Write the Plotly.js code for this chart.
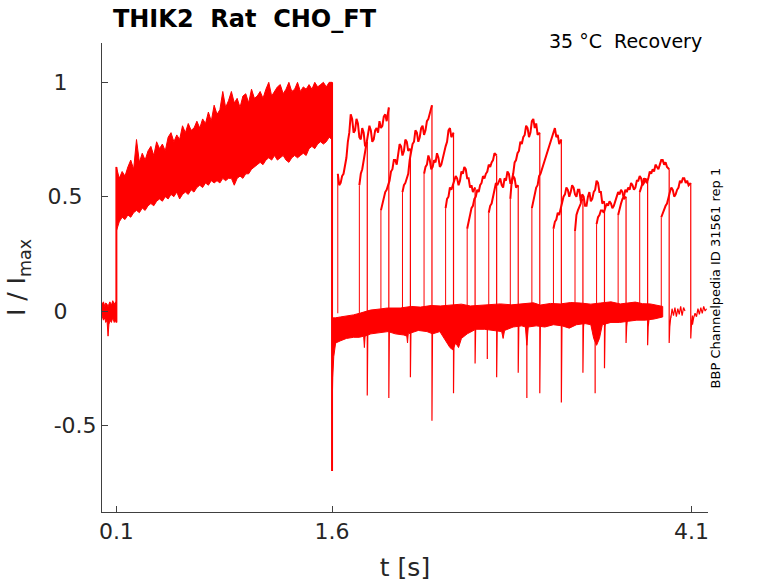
<!DOCTYPE html>
<html>
<head>
<meta charset="utf-8">
<script src="https://cdn.plot.ly/plotly-3.0.1.min.js"></script>
<style>
  html, body { margin: 0; padding: 0; background: #fff; }
  #chart { width: 778px; height: 583px; }
</style>
</head>
<body>
<div id="chart"></div>
<script>
// ---- data (time in s, current normalised to Imax) ----

// holding level before the first pulse (band of overlaid sweeps)
var preT  = [0, 0.01, 0.02, 0.026, 0.035, 0.042, 0.048, 0.055, 0.065, 0.075, 0.085, 0.095, 0.1];
var preHi = [0.03, 0.04, 0.02, 0.035, 0.03, 0.02, 0.03, 0.04, 0.025, 0.045, 0.03, 0.04, 0.03];
var preLo = [-0.02, -0.04, -0.03, -0.05, -0.04, -0.11, -0.06, -0.04, -0.05, -0.03, -0.05, -0.04, -0.05];

// first (conditioning) pulse 0.1 - 1.6 s : upper and lower edge of the band
var p1T = [0.10, 0.12, 0.14, 0.16, 0.18, 0.20, 0.22, 0.24, 0.26, 0.28,
           0.30, 0.32, 0.34, 0.36, 0.38, 0.40, 0.42, 0.44, 0.46, 0.48,
           0.50, 0.52, 0.54, 0.56, 0.58, 0.60, 0.62, 0.64, 0.66, 0.68,
           0.70, 0.72, 0.74, 0.76, 0.78, 0.80, 0.82, 0.84, 0.86, 0.88,
           0.90, 0.92, 0.94, 0.96, 0.98, 1.00, 1.02, 1.04, 1.06, 1.08,
           1.10, 1.12, 1.14, 1.16, 1.18, 1.20, 1.22, 1.24, 1.26, 1.28,
           1.30, 1.32, 1.34, 1.36, 1.38, 1.40, 1.42, 1.44, 1.46, 1.48,
           1.50, 1.52, 1.54, 1.56, 1.58, 1.60];
var p1Hi = [0.63, 0.58, 0.61, 0.59, 0.63, 0.66, 0.62, 0.75, 0.65, 0.69,
            0.66, 0.70, 0.72, 0.68, 0.74, 0.71, 0.73, 0.70, 0.76, 0.78,
            0.74, 0.77, 0.75, 0.81, 0.78, 0.82, 0.79, 0.80, 0.83, 0.80,
            0.84, 0.82, 0.87, 0.83, 0.90, 0.86, 0.88, 0.96, 0.89, 0.92,
            0.96, 0.91, 0.93, 0.89, 0.94, 0.95, 0.91, 0.97, 0.93, 0.94,
            0.96, 0.93, 0.97, 1.00, 0.94, 0.96, 0.98, 0.99, 0.95, 0.97,
            1.00, 0.96, 0.97, 1.00, 0.96, 0.98, 0.97, 0.99, 0.97, 1.00,
            0.98, 0.99, 1.00, 0.98, 1.00, 1.00];
var p1Lo = [0.35, 0.39, 0.41, 0.40, 0.42, 0.41, 0.43, 0.44, 0.43, 0.45,
            0.44, 0.46, 0.47, 0.46, 0.48, 0.49, 0.48, 0.50, 0.49, 0.51,
            0.50, 0.52, 0.49, 0.51, 0.52, 0.51, 0.53, 0.52, 0.54, 0.55,
            0.54, 0.56, 0.55, 0.57, 0.56, 0.57, 0.56, 0.58, 0.57, 0.58,
            0.58, 0.55, 0.58, 0.59, 0.58, 0.60, 0.60, 0.62, 0.63, 0.64,
            0.65, 0.64, 0.66, 0.67, 0.66, 0.68, 0.66, 0.67, 0.68, 0.66,
            0.65, 0.67, 0.68, 0.67, 0.68, 0.69, 0.68, 0.71, 0.72, 0.71,
            0.73, 0.74, 0.73, 0.74, 0.76, 0.75];

// back at holding after 1.6 s, until the last sweep starts its test pulse
var postHiT = [1.600, 1.623, 1.658, 1.707, 1.749, 1.797, 1.867, 1.936, 1.985, 2.075,
               2.150, 2.214, 2.290, 2.353, 2.444, 2.500, 2.562, 2.680, 2.771, 2.850,
               2.910, 3.000, 3.049, 3.120, 3.188, 3.260, 3.327, 3.400, 3.466, 3.540,
               3.605, 3.709, 3.760, 3.813, 3.860, 3.900];
var postHi  = [-0.03, -0.03, -0.026, -0.022, -0.017, -0.009, 0.004, 0.009, 0.013, 0.013,
               0.02, 0.017, 0.024, 0.022, 0.026, 0.03, 0.022, 0.026, 0.031, 0.027,
               0.031, 0.036, 0.026, 0.033, 0.031, 0.037, 0.035, 0.03, 0.035, 0.04,
               0.031, 0.039, 0.032, 0.031, 0.025, 0.02];
var postLoT = [1.600, 1.605, 1.612, 1.625, 1.660, 1.700, 1.750, 1.790, 1.820, 1.825,
               1.830, 1.870, 1.930, 1.990, 2.040, 2.100, 2.120, 2.125, 2.130, 2.200,
               2.260, 2.300, 2.350, 2.390, 2.420, 2.440, 2.460, 2.480, 2.500, 2.540,
               2.600, 2.660, 2.720, 2.780, 2.790, 2.800, 2.860, 2.920, 2.945, 2.955,
               2.965, 3.020, 3.080, 3.140, 3.200, 3.250, 3.300, 3.360, 3.400, 3.420,
               3.440, 3.460, 3.480, 3.540, 3.600, 3.660, 3.720, 3.780, 3.840, 3.900];
var postLo  = [-0.45, -0.29, -0.20, -0.14, -0.13, -0.12, -0.115, -0.115, -0.11, -0.16,
               -0.11, -0.10, -0.095, -0.09, -0.10, -0.105, -0.11, -0.14, -0.10, -0.085,
               -0.09, -0.10, -0.09, -0.13, -0.16, -0.17, -0.14, -0.16, -0.12, -0.10,
               -0.08, -0.08, -0.085, -0.09, -0.12, -0.085, -0.07, -0.065, -0.07, -0.15,
               -0.07, -0.065, -0.07, -0.06, -0.065, -0.075, -0.06, -0.055, -0.06, -0.12,
               -0.15, -0.12, -0.06, -0.05, -0.05, -0.045, -0.04, -0.04, -0.035, -0.026];

// odd capacitive spikes on the holding level
var spikeT   = [2.680, 2.955, 3.430];
var spikeMin = [-0.21, -0.38, -0.36];

// step edges of the first pulse
var stepOnT = 0.1,  stepOnY  = [-0.05, 0.63];
var stepOffT = 1.6, stepOffY = [1.0, -0.70];

// test pulses: start times, sample offsets inside the pulse, values, tail minimum
var segStart = [1.64, 1.79, 1.94, 2.09, 2.24, 2.39, 2.54, 2.69,
                2.84, 2.99, 3.14, 3.29, 3.44, 3.59, 3.74, 3.89];
var segPhase = [0, 0.01, 0.02, 0.03, 0.04, 0.05, 0.06, 0.07, 0.08, 0.09, 0.10,
                0.11, 0.12, 0.13, 0.14, 0.15, 0.16, 0.17, 0.18, 0.19, 0.205];
var segVals = [
  [0.60, 0.55, 0.56, 0.59, 0.60, 0.64, 0.67, 0.74, 0.78, 0.86, 0.84, 0.78, 0.79, 0.84, 0.82, 0.76, 0.75, 0.80, 0.78, 0.72, 0.74],
  [0.55, 0.60, 0.62, 0.66, 0.68, 0.73, 0.76, 0.81, 0.79, 0.74, 0.75, 0.79, 0.80, 0.78, 0.83, 0.80, 0.81, 0.85, 0.86, 0.83, 0.89],
  [0.44, 0.47, 0.49, 0.52, 0.53, 0.55, 0.57, 0.61, 0.62, 0.66, 0.66, 0.64, 0.69, 0.73, 0.72, 0.68, 0.70, 0.75, 0.74, 0.70, 0.71],
  [0.52, 0.55, 0.56, 0.58, 0.60, 0.66, 0.70, 0.73, 0.74, 0.79, 0.78, 0.74, 0.76, 0.80, 0.81, 0.77, 0.79, 0.83, 0.84, 0.87, 0.90],
  [0.60, 0.63, 0.64, 0.68, 0.66, 0.62, 0.63, 0.66, 0.65, 0.69, 0.67, 0.63, 0.64, 0.67, 0.69, 0.72, 0.74, 0.79, 0.80, 0.76, 0.78],
  [0.45, 0.49, 0.50, 0.54, 0.53, 0.55, 0.56, 0.59, 0.58, 0.55, 0.57, 0.61, 0.60, 0.63, 0.62, 0.58, 0.58, 0.54, 0.55, 0.52, 0.54],
  [0.36, 0.40, 0.42, 0.45, 0.46, 0.49, 0.50, 0.53, 0.52, 0.55, 0.56, 0.59, 0.58, 0.60, 0.61, 0.64, 0.63, 0.65, 0.66, 0.69, 0.68],
  [0.43, 0.46, 0.47, 0.50, 0.52, 0.56, 0.55, 0.57, 0.58, 0.55, 0.54, 0.58, 0.57, 0.61, 0.60, 0.56, 0.56, 0.59, 0.58, 0.54, 0.55],
  [0.49, 0.57, 0.60, 0.65, 0.66, 0.69, 0.70, 0.74, 0.73, 0.76, 0.77, 0.81, 0.80, 0.76, 0.78, 0.83, 0.84, 0.80, 0.82, 0.77, 0.78],
  [0.45, 0.48, 0.50, 0.54, 0.55, 0.59, 0.60, 0.62, 0.64, 0.67, 0.68, 0.71, 0.72, 0.75, 0.76, 0.79, 0.80, 0.76, 0.77, 0.73, 0.75],
  [0.36, 0.39, 0.40, 0.43, 0.42, 0.45, 0.47, 0.50, 0.51, 0.54, 0.53, 0.50, 0.52, 0.55, 0.54, 0.51, 0.50, 0.53, 0.53, 0.48, 0.49],
  [0.35, 0.42, 0.44, 0.46, 0.47, 0.51, 0.50, 0.46, 0.46, 0.50, 0.52, 0.48, 0.49, 0.52, 0.53, 0.57, 0.56, 0.52, 0.52, 0.47, 0.48],
  [0.38, 0.41, 0.42, 0.44, 0.44, 0.43, 0.45, 0.47, 0.46, 0.48, 0.47, 0.45, 0.46, 0.48, 0.49, 0.52, 0.51, 0.53, 0.52, 0.49, 0.50],
  [0.42, 0.45, 0.47, 0.49, 0.50, 0.53, 0.52, 0.54, 0.53, 0.56, 0.55, 0.53, 0.54, 0.57, 0.57, 0.59, 0.58, 0.55, 0.56, 0.58, 0.56],
  [0.52, 0.54, 0.55, 0.58, 0.57, 0.56, 0.58, 0.61, 0.60, 0.62, 0.61, 0.64, 0.63, 0.62, 0.64, 0.66, 0.66, 0.64, 0.65, 0.63, 0.62],
  [0.41, 0.43, 0.44, 0.46, 0.47, 0.50, 0.52, 0.54, 0.53, 0.50, 0.51, 0.53, 0.54, 0.57, 0.56, 0.58, 0.58, 0.56, 0.57, 0.55, 0.56]
];
var segTail = [-0.37, -0.38, -0.29, -0.48, -0.36, -0.23, -0.29, -0.27,
               -0.36, -0.40, -0.27, -0.25, -0.14, -0.15, -0.14, -0.12];
var tailT = [0.004, 0.012];
var tailY = [-0.07, -0.02];

// the last two sweeps keep recording on their own after the test pulse
var rec14T = [3.957, 3.965, 3.975, 3.985, 3.995, 4.005, 4.015, 4.025, 4.035, 4.045, 4.055];
var rec14Y = [-0.03, 0.01, -0.02, 0.015, -0.025, 0.01, -0.015, 0.02, -0.02, 0.015, 0.0];
var rec15T = [4.107, 4.115, 4.125, 4.135, 4.145, 4.155, 4.165, 4.175, 4.185, 4.195, 4.205];
var rec15Y = [-0.06, -0.03, -0.01, -0.025, 0.01, -0.015, 0.015, -0.01, 0.02, 0.0, 0.01];

// axis ticks (labels padded the way the reference places them)
var xTickVals = [0.1, 1.6, 4.1];
var xTickText = ['0.1', '1.6', '4.1'];
var yTickVals = [-0.5, 0, 0.5, 1];
var yTickText = ['-0.5', '0\u2002\u2002\u00a0', '0.5\u00a0\u00a0', '1\u2002\u2002\u00a0'];

// ---- build traces ----
var RED = '#ff0000';

function band(tHi, yHi, tLo, yLo) {
  return {
    type: 'scatter', mode: 'lines',
    x: tHi.concat(tLo.slice().reverse()),
    y: yHi.concat(yLo.slice().reverse()),
    fill: 'toself', fillcolor: RED,
    line: { color: RED, width: 1 },
    hoverinfo: 'skip', showlegend: false
  };
}

function line(x, y, w) {
  return {
    type: 'scatter', mode: 'lines', x: x, y: y,
    line: { color: RED, width: w || 1 },
    hoverinfo: 'skip', showlegend: false
  };
}

var data = [
  band(preT, preHi, preT, preLo),
  band(p1T, p1Hi, p1T, p1Lo),
  band(postHiT, postHi, postLoT, postLo),
  line([stepOnT, stepOnT], stepOnY, 2),
  line([stepOffT, stepOffT], stepOffY, 2)
];

for (var s = 0; s < spikeT.length; s++) {
  data.push(line([spikeT[s], spikeT[s]], [-0.02, spikeMin[s]], 1.2));
}

for (var k = 0; k < segStart.length; k++) {
  var x0 = segStart[k];
  var vals = segVals[k];
  var xs = [], ys = [];
  for (var i = 0; i < segPhase.length; i++) {
    xs.push(x0 + segPhase[i]);
    ys.push(vals[i]);
  }
  var xe = xs[xs.length - 1];
  // rising edge of the test pulse
  data.push(line([x0, x0], [-0.01, vals[0]], 1));
  // noisy current during the test pulse
  data.push(line(xs, ys, 2));
  // falling edge, tail and return to holding
  var fx = [xe, xe], fy = [vals[vals.length - 1], segTail[k]];
  for (var j = 0; j < tailT.length; j++) {
    fx.push(xe + tailT[j]); fy.push(tailY[j]);
  }
  if (k === 14) { fx = fx.concat(rec14T); fy = fy.concat(rec14Y); }
  if (k === 15) { fx = fx.concat(rec15T); fy = fy.concat(rec15Y); }
  data.push(line(fx, fy, 1.2));
}

var FONT = 'DejaVu Sans';
var AX = '#404040';
var TXT = '#262626';

var layout = {
  width: 778, height: 583,
  margin: { l: 102, r: 70, t: 43, b: 71 },
  paper_bgcolor: '#ffffff', plot_bgcolor: '#ffffff',
  font: { family: FONT, color: TXT },
  showlegend: false,
  title: {
    text: 'THIK2\u00a0\u00a0Rat\u00a0\u00a0CHO_FT',
    font: { family: FONT, size: 24, weight: 'bold', color: '#000' },
    xref: 'paper', x: 0.018, xanchor: 'left',
    yref: 'container', y: 0.968, yanchor: 'middle'
  },
  xaxis: {
    range: [0, 4.215],
    showgrid: false, zeroline: false,
    showline: true, linecolor: AX, linewidth: 1, mirror: false,
    ticks: 'inside', ticklen: 6, tickcolor: AX,
    tickvals: xTickVals, ticktext: xTickText,
    tickfont: { family: FONT, size: 22, color: TXT },
    title: { text: 't [s]', font: { family: FONT, size: 25, color: TXT }, standoff: 15 }
  },
  yaxis: {
    range: [-0.879, 1.172],
    showgrid: false, zeroline: false,
    showline: true, linecolor: AX, linewidth: 1, mirror: false,
    ticks: 'inside', ticklen: 6, tickcolor: AX,
    tickvals: yTickVals, ticktext: yTickText,
    tickfont: { family: FONT, size: 22, color: TXT },
    title: { text: 'I / I<sub>max</sub>', font: { family: FONT, size: 25, color: TXT }, standoff: 14 }
  },
  annotations: [
    {
      text: '35 \u00b0C\u00a0\u00a0Recovery',
      xref: 'paper', yref: 'paper', x: 0.993, y: 1.004,
      xanchor: 'right', yanchor: 'middle', showarrow: false,
      font: { family: FONT, size: 19, color: '#000' }
    },
    {
      text: 'BBP Channelpedia ID 31561 rep 1',
      xref: 'paper', yref: 'paper', x: 1.013, y: 0.5,
      xanchor: 'center', yanchor: 'middle', showarrow: false, textangle: -90,
      font: { family: FONT, size: 13, color: '#000' }
    }
  ]
};

Plotly.newPlot('chart', data, layout, { displayModeBar: false, staticPlot: true });
</script>
</body>
</html>
